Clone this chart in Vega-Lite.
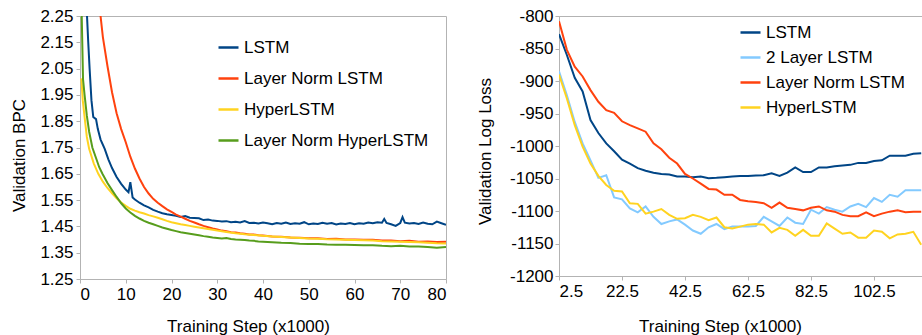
{
  "$schema": "https://vega.github.io/schema/vega-lite/v6.json",
  "autosize": {"type": "none"},
  "padding": {"left": 80, "top": 16, "right": 842, "bottom": 319},
  "background": "white",
  "bounds": "flush",
  "spacing": 113,
  "config": {
    "font": "Liberation Sans",
    "view": {"stroke": "#b3b3b3", "strokeWidth": 1},
    "axis": {
      "grid": false,
      "domainColor": "#b3b3b3",
      "tickColor": "#b3b3b3",
      "tickSize": 4,
      "labelColor": "#000000",
      "labelFontSize": 17,
      "labelFont": "Liberation Sans",
      "titleFont": "Liberation Sans",
      "titleFontSize": 17,
      "titleFontWeight": "normal",
      "titleColor": "#000000",
      "titleBaseline": "alphabetic"
    },
    "legend": {
      "labelFont": "Liberation Sans",
      "labelFontSize": 17,
      "labelColor": "#000000",
      "symbolType": "stroke",
      "symbolSize": 400,
      "symbolStrokeWidth": 2.5,
      "labelOffset": 4,
      "padding": 0,
      "labelLimit": 400
    }
  },
  "resolve": {"scale": {"color": "independent"}, "legend": {"color": "independent"}},
  "hconcat": [
    {
      "width": 366,
      "height": 263,
      "data": {"values": [
        {"model":"LSTM","step":1.4,"bpc":2.30},{"model":"LSTM","step":1.8,"bpc":2.15},{"model":"LSTM","step":2.1,"bpc":2.05},{"model":"LSTM","step":2.5,"bpc":1.93},{"model":"LSTM","step":2.9,"bpc":1.866},{"model":"LSTM","step":3.5,"bpc":1.858},{"model":"LSTM","step":3.9,"bpc":1.82},{"model":"LSTM","step":4.5,"bpc":1.78},{"model":"LSTM","step":5.4,"bpc":1.745},{"model":"LSTM","step":6.2,"bpc":1.705},{"model":"LSTM","step":7,"bpc":1.672},{"model":"LSTM","step":8,"bpc":1.638},{"model":"LSTM","step":9,"bpc":1.612},{"model":"LSTM","step":10,"bpc":1.59},{"model":"LSTM","step":10.6,"bpc":1.58},{"model":"LSTM","step":11,"bpc":1.618},{"model":"LSTM","step":11.5,"bpc":1.56},{"model":"LSTM","step":12,"bpc":1.552},{"model":"LSTM","step":13,"bpc":1.54},{"model":"LSTM","step":14,"bpc":1.53},{"model":"LSTM","step":15,"bpc":1.522},{"model":"LSTM","step":16,"bpc":1.513},{"model":"LSTM","step":17,"bpc":1.506},{"model":"LSTM","step":18,"bpc":1.5},{"model":"LSTM","step":19,"bpc":1.496},{"model":"LSTM","step":20,"bpc":1.493},{"model":"LSTM","step":21,"bpc":1.49},{"model":"LSTM","step":22,"bpc":1.486},{"model":"LSTM","step":23,"bpc":1.489},{"model":"LSTM","step":24,"bpc":1.483},{"model":"LSTM","step":25,"bpc":1.482},{"model":"LSTM","step":26,"bpc":1.481},{"model":"LSTM","step":27,"bpc":1.474},{"model":"LSTM","step":28,"bpc":1.476},{"model":"LSTM","step":29,"bpc":1.472},{"model":"LSTM","step":30,"bpc":1.471},{"model":"LSTM","step":31,"bpc":1.469},{"model":"LSTM","step":32,"bpc":1.47},{"model":"LSTM","step":33,"bpc":1.466},{"model":"LSTM","step":34,"bpc":1.468},{"model":"LSTM","step":35,"bpc":1.465},{"model":"LSTM","step":36,"bpc":1.47},{"model":"LSTM","step":37,"bpc":1.463},{"model":"LSTM","step":38,"bpc":1.464},{"model":"LSTM","step":39,"bpc":1.461},{"model":"LSTM","step":40,"bpc":1.465},{"model":"LSTM","step":41,"bpc":1.462},{"model":"LSTM","step":42,"bpc":1.458},{"model":"LSTM","step":43,"bpc":1.463},{"model":"LSTM","step":44,"bpc":1.46},{"model":"LSTM","step":45,"bpc":1.465},{"model":"LSTM","step":46,"bpc":1.459},{"model":"LSTM","step":47,"bpc":1.462},{"model":"LSTM","step":48,"bpc":1.46},{"model":"LSTM","step":49,"bpc":1.466},{"model":"LSTM","step":50,"bpc":1.458},{"model":"LSTM","step":51,"bpc":1.461},{"model":"LSTM","step":52,"bpc":1.459},{"model":"LSTM","step":53,"bpc":1.464},{"model":"LSTM","step":54,"bpc":1.46},{"model":"LSTM","step":55,"bpc":1.463},{"model":"LSTM","step":56,"bpc":1.457},{"model":"LSTM","step":57,"bpc":1.461},{"model":"LSTM","step":58,"bpc":1.459},{"model":"LSTM","step":59,"bpc":1.463},{"model":"LSTM","step":60,"bpc":1.458},{"model":"LSTM","step":61,"bpc":1.462},{"model":"LSTM","step":62,"bpc":1.46},{"model":"LSTM","step":63,"bpc":1.465},{"model":"LSTM","step":64,"bpc":1.462},{"model":"LSTM","step":65,"bpc":1.466},{"model":"LSTM","step":66,"bpc":1.464},{"model":"LSTM","step":66.5,"bpc":1.478},{"model":"LSTM","step":67,"bpc":1.463},{"model":"LSTM","step":68,"bpc":1.458},{"model":"LSTM","step":69,"bpc":1.452},{"model":"LSTM","step":70,"bpc":1.463},{"model":"LSTM","step":70.5,"bpc":1.485},{"model":"LSTM","step":71,"bpc":1.464},{"model":"LSTM","step":72,"bpc":1.461},{"model":"LSTM","step":73,"bpc":1.463},{"model":"LSTM","step":74,"bpc":1.459},{"model":"LSTM","step":75,"bpc":1.465},{"model":"LSTM","step":76,"bpc":1.46},{"model":"LSTM","step":77,"bpc":1.458},{"model":"LSTM","step":78,"bpc":1.468},{"model":"LSTM","step":79,"bpc":1.462},{"model":"LSTM","step":80,"bpc":1.456},

        {"model":"Layer Norm LSTM","step":4.3,"bpc":2.28},{"model":"Layer Norm LSTM","step":5,"bpc":2.17},{"model":"Layer Norm LSTM","step":6,"bpc":2.06},{"model":"Layer Norm LSTM","step":7,"bpc":1.96},{"model":"Layer Norm LSTM","step":8,"bpc":1.88},{"model":"Layer Norm LSTM","step":9,"bpc":1.82},{"model":"Layer Norm LSTM","step":10,"bpc":1.77},{"model":"Layer Norm LSTM","step":11,"bpc":1.715},{"model":"Layer Norm LSTM","step":12,"bpc":1.67},{"model":"Layer Norm LSTM","step":13,"bpc":1.632},{"model":"Layer Norm LSTM","step":14,"bpc":1.6},{"model":"Layer Norm LSTM","step":15,"bpc":1.575},{"model":"Layer Norm LSTM","step":16,"bpc":1.555},{"model":"Layer Norm LSTM","step":17,"bpc":1.54},{"model":"Layer Norm LSTM","step":18,"bpc":1.527},{"model":"Layer Norm LSTM","step":19,"bpc":1.515},{"model":"Layer Norm LSTM","step":20,"bpc":1.505},{"model":"Layer Norm LSTM","step":21,"bpc":1.495},{"model":"Layer Norm LSTM","step":22,"bpc":1.487},{"model":"Layer Norm LSTM","step":23,"bpc":1.479},{"model":"Layer Norm LSTM","step":24,"bpc":1.471},{"model":"Layer Norm LSTM","step":25,"bpc":1.465},{"model":"Layer Norm LSTM","step":26,"bpc":1.458},{"model":"Layer Norm LSTM","step":27,"bpc":1.452},{"model":"Layer Norm LSTM","step":28,"bpc":1.447},{"model":"Layer Norm LSTM","step":29,"bpc":1.442},{"model":"Layer Norm LSTM","step":30,"bpc":1.438},{"model":"Layer Norm LSTM","step":31,"bpc":1.434},{"model":"Layer Norm LSTM","step":32,"bpc":1.432},{"model":"Layer Norm LSTM","step":33,"bpc":1.428},{"model":"Layer Norm LSTM","step":34,"bpc":1.427},{"model":"Layer Norm LSTM","step":35,"bpc":1.424},{"model":"Layer Norm LSTM","step":36,"bpc":1.422},{"model":"Layer Norm LSTM","step":37,"bpc":1.419},{"model":"Layer Norm LSTM","step":38,"bpc":1.419},{"model":"Layer Norm LSTM","step":39,"bpc":1.416},{"model":"Layer Norm LSTM","step":40,"bpc":1.415},{"model":"Layer Norm LSTM","step":42,"bpc":1.412},{"model":"Layer Norm LSTM","step":44,"bpc":1.411},{"model":"Layer Norm LSTM","step":46,"bpc":1.408},{"model":"Layer Norm LSTM","step":48,"bpc":1.407},{"model":"Layer Norm LSTM","step":50,"bpc":1.405},{"model":"Layer Norm LSTM","step":52,"bpc":1.405},{"model":"Layer Norm LSTM","step":54,"bpc":1.402},{"model":"Layer Norm LSTM","step":56,"bpc":1.403},{"model":"Layer Norm LSTM","step":58,"bpc":1.4},{"model":"Layer Norm LSTM","step":60,"bpc":1.4},{"model":"Layer Norm LSTM","step":62,"bpc":1.399},{"model":"Layer Norm LSTM","step":64,"bpc":1.399},{"model":"Layer Norm LSTM","step":66,"bpc":1.396},{"model":"Layer Norm LSTM","step":68,"bpc":1.396},{"model":"Layer Norm LSTM","step":70,"bpc":1.394},{"model":"Layer Norm LSTM","step":72,"bpc":1.395},{"model":"Layer Norm LSTM","step":74,"bpc":1.392},{"model":"Layer Norm LSTM","step":76,"bpc":1.393},{"model":"Layer Norm LSTM","step":78,"bpc":1.391},{"model":"Layer Norm LSTM","step":80,"bpc":1.392},

        {"model":"HyperLSTM","step":0.3,"bpc":2.013},{"model":"HyperLSTM","step":0.6,"bpc":1.93},{"model":"HyperLSTM","step":1,"bpc":1.866},{"model":"HyperLSTM","step":1.5,"bpc":1.79},{"model":"HyperLSTM","step":2,"bpc":1.745},{"model":"HyperLSTM","step":3,"bpc":1.69},{"model":"HyperLSTM","step":4,"bpc":1.65},{"model":"HyperLSTM","step":5,"bpc":1.62},{"model":"HyperLSTM","step":6,"bpc":1.596},{"model":"HyperLSTM","step":7,"bpc":1.576},{"model":"HyperLSTM","step":8,"bpc":1.557},{"model":"HyperLSTM","step":9,"bpc":1.541},{"model":"HyperLSTM","step":10,"bpc":1.528},{"model":"HyperLSTM","step":11,"bpc":1.517},{"model":"HyperLSTM","step":12,"bpc":1.51},{"model":"HyperLSTM","step":13,"bpc":1.504},{"model":"HyperLSTM","step":14,"bpc":1.499},{"model":"HyperLSTM","step":15,"bpc":1.493},{"model":"HyperLSTM","step":16,"bpc":1.488},{"model":"HyperLSTM","step":17,"bpc":1.483},{"model":"HyperLSTM","step":18,"bpc":1.477},{"model":"HyperLSTM","step":19,"bpc":1.471},{"model":"HyperLSTM","step":20,"bpc":1.466},{"model":"HyperLSTM","step":21,"bpc":1.462},{"model":"HyperLSTM","step":22,"bpc":1.458},{"model":"HyperLSTM","step":23,"bpc":1.455},{"model":"HyperLSTM","step":24,"bpc":1.452},{"model":"HyperLSTM","step":25,"bpc":1.449},{"model":"HyperLSTM","step":26,"bpc":1.446},{"model":"HyperLSTM","step":27,"bpc":1.443},{"model":"HyperLSTM","step":28,"bpc":1.44},{"model":"HyperLSTM","step":29,"bpc":1.437},{"model":"HyperLSTM","step":30,"bpc":1.434},{"model":"HyperLSTM","step":32,"bpc":1.429},{"model":"HyperLSTM","step":34,"bpc":1.424},{"model":"HyperLSTM","step":36,"bpc":1.42},{"model":"HyperLSTM","step":38,"bpc":1.417},{"model":"HyperLSTM","step":40,"bpc":1.414},{"model":"HyperLSTM","step":42,"bpc":1.412},{"model":"HyperLSTM","step":44,"bpc":1.41},{"model":"HyperLSTM","step":46,"bpc":1.408},{"model":"HyperLSTM","step":48,"bpc":1.406},{"model":"HyperLSTM","step":50,"bpc":1.404},{"model":"HyperLSTM","step":52,"bpc":1.403},{"model":"HyperLSTM","step":54,"bpc":1.401},{"model":"HyperLSTM","step":56,"bpc":1.4},{"model":"HyperLSTM","step":58,"bpc":1.399},{"model":"HyperLSTM","step":60,"bpc":1.398},{"model":"HyperLSTM","step":62,"bpc":1.397},{"model":"HyperLSTM","step":64,"bpc":1.396},{"model":"HyperLSTM","step":66,"bpc":1.394},{"model":"HyperLSTM","step":68,"bpc":1.393},{"model":"HyperLSTM","step":70,"bpc":1.392},{"model":"HyperLSTM","step":72,"bpc":1.391},{"model":"HyperLSTM","step":74,"bpc":1.39},{"model":"HyperLSTM","step":76,"bpc":1.388},{"model":"HyperLSTM","step":78,"bpc":1.386},{"model":"HyperLSTM","step":80,"bpc":1.385},

        {"model":"Layer Norm HyperLSTM","step":0.2,"bpc":2.4},{"model":"Layer Norm HyperLSTM","step":0.66,"bpc":2.01},{"model":"Layer Norm HyperLSTM","step":1,"bpc":1.95},{"model":"Layer Norm HyperLSTM","step":1.5,"bpc":1.87},{"model":"Layer Norm HyperLSTM","step":2,"bpc":1.81},{"model":"Layer Norm HyperLSTM","step":2.7,"bpc":1.75},{"model":"Layer Norm HyperLSTM","step":3.5,"bpc":1.71},{"model":"Layer Norm HyperLSTM","step":4.2,"bpc":1.675},{"model":"Layer Norm HyperLSTM","step":4.9,"bpc":1.65},{"model":"Layer Norm HyperLSTM","step":6,"bpc":1.615},{"model":"Layer Norm HyperLSTM","step":7,"bpc":1.588},{"model":"Layer Norm HyperLSTM","step":8,"bpc":1.562},{"model":"Layer Norm HyperLSTM","step":9,"bpc":1.538},{"model":"Layer Norm HyperLSTM","step":10,"bpc":1.518},{"model":"Layer Norm HyperLSTM","step":11,"bpc":1.503},{"model":"Layer Norm HyperLSTM","step":12,"bpc":1.49},{"model":"Layer Norm HyperLSTM","step":13,"bpc":1.48},{"model":"Layer Norm HyperLSTM","step":14,"bpc":1.471},{"model":"Layer Norm HyperLSTM","step":15,"bpc":1.464},{"model":"Layer Norm HyperLSTM","step":16,"bpc":1.458},{"model":"Layer Norm HyperLSTM","step":17,"bpc":1.452},{"model":"Layer Norm HyperLSTM","step":18,"bpc":1.446},{"model":"Layer Norm HyperLSTM","step":19,"bpc":1.441},{"model":"Layer Norm HyperLSTM","step":20,"bpc":1.436},{"model":"Layer Norm HyperLSTM","step":21,"bpc":1.432},{"model":"Layer Norm HyperLSTM","step":22,"bpc":1.428},{"model":"Layer Norm HyperLSTM","step":23,"bpc":1.425},{"model":"Layer Norm HyperLSTM","step":24,"bpc":1.422},{"model":"Layer Norm HyperLSTM","step":25,"bpc":1.419},{"model":"Layer Norm HyperLSTM","step":26,"bpc":1.416},{"model":"Layer Norm HyperLSTM","step":27,"bpc":1.413},{"model":"Layer Norm HyperLSTM","step":28,"bpc":1.411},{"model":"Layer Norm HyperLSTM","step":29,"bpc":1.408},{"model":"Layer Norm HyperLSTM","step":30,"bpc":1.406},{"model":"Layer Norm HyperLSTM","step":31,"bpc":1.404},{"model":"Layer Norm HyperLSTM","step":32,"bpc":1.406},{"model":"Layer Norm HyperLSTM","step":33,"bpc":1.402},{"model":"Layer Norm HyperLSTM","step":34,"bpc":1.4},{"model":"Layer Norm HyperLSTM","step":35,"bpc":1.399},{"model":"Layer Norm HyperLSTM","step":36,"bpc":1.398},{"model":"Layer Norm HyperLSTM","step":37,"bpc":1.396},{"model":"Layer Norm HyperLSTM","step":38,"bpc":1.395},{"model":"Layer Norm HyperLSTM","step":39,"bpc":1.393},{"model":"Layer Norm HyperLSTM","step":40,"bpc":1.392},{"model":"Layer Norm HyperLSTM","step":42,"bpc":1.39},{"model":"Layer Norm HyperLSTM","step":44,"bpc":1.388},{"model":"Layer Norm HyperLSTM","step":46,"bpc":1.387},{"model":"Layer Norm HyperLSTM","step":48,"bpc":1.384},{"model":"Layer Norm HyperLSTM","step":50,"bpc":1.383},{"model":"Layer Norm HyperLSTM","step":52,"bpc":1.383},{"model":"Layer Norm HyperLSTM","step":54,"bpc":1.381},{"model":"Layer Norm HyperLSTM","step":56,"bpc":1.38},{"model":"Layer Norm HyperLSTM","step":58,"bpc":1.38},{"model":"Layer Norm HyperLSTM","step":60,"bpc":1.379},{"model":"Layer Norm HyperLSTM","step":62,"bpc":1.378},{"model":"Layer Norm HyperLSTM","step":64,"bpc":1.378},{"model":"Layer Norm HyperLSTM","step":66,"bpc":1.376},{"model":"Layer Norm HyperLSTM","step":68,"bpc":1.375},{"model":"Layer Norm HyperLSTM","step":70,"bpc":1.376},{"model":"Layer Norm HyperLSTM","step":72,"bpc":1.374},{"model":"Layer Norm HyperLSTM","step":74,"bpc":1.374},{"model":"Layer Norm HyperLSTM","step":76,"bpc":1.372},{"model":"Layer Norm HyperLSTM","step":78,"bpc":1.369},{"model":"Layer Norm HyperLSTM","step":80,"bpc":1.372}
      ]},
      "mark": {"type": "line", "strokeWidth": 2, "clip": true},
      "encoding": {
        "x": {"field": "step", "type": "quantitative",
          "scale": {"domain": [0, 80], "nice": false, "zero": false},
          "axis": {"values": [0, 10, 20, 30, 40, 50, 60, 70, 80], "labelPadding": 3,
            "title": "Training Step (x1000)", "titleX": 168, "titleY": 52}},
        "y": {"field": "bpc", "type": "quantitative",
          "scale": {"domain": [1.25, 2.25], "nice": false, "zero": false},
          "axis": {"values": [1.25, 1.35, 1.45, 1.55, 1.65, 1.75, 1.85, 1.95, 2.05, 2.15, 2.25], "format": ".2f", "labelPadding": 3,
            "title": "Validation BPC", "titleX": -56, "titleY": 139}},
        "color": {"field": "model", "type": "nominal",
          "scale": {"domain": ["LSTM", "Layer Norm LSTM", "HyperLSTM", "Layer Norm HyperLSTM"],
                    "range": ["#004586", "#ff420e", "#ffd320", "#579d1c"]},
          "legend": {"title": null, "orient": "none", "legendX": 137, "legendY": 20, "rowPadding": 11}}
      }
    },
    {
      "width": 366,
      "height": 260,
      "data": {"values": [
        {"model":"LSTM","step":2.5,"loss":-828},{"model":"LSTM","step":5,"loss":-860},{"model":"LSTM","step":7.5,"loss":-895},{"model":"LSTM","step":10,"loss":-916},{"model":"LSTM","step":12.5,"loss":-960},{"model":"LSTM","step":15,"loss":-980},{"model":"LSTM","step":17.5,"loss":-996},{"model":"LSTM","step":20,"loss":-1008},{"model":"LSTM","step":22.5,"loss":-1021},{"model":"LSTM","step":25,"loss":-1027},{"model":"LSTM","step":27.5,"loss":-1034},{"model":"LSTM","step":30,"loss":-1038},{"model":"LSTM","step":32.5,"loss":-1041},{"model":"LSTM","step":35,"loss":-1043},{"model":"LSTM","step":37.5,"loss":-1044},{"model":"LSTM","step":40,"loss":-1047},{"model":"LSTM","step":42.5,"loss":-1047},{"model":"LSTM","step":45,"loss":-1048},{"model":"LSTM","step":47.5,"loss":-1047},{"model":"LSTM","step":50,"loss":-1049.5},{"model":"LSTM","step":52.5,"loss":-1049},{"model":"LSTM","step":55,"loss":-1048},{"model":"LSTM","step":57.5,"loss":-1047},{"model":"LSTM","step":60,"loss":-1046},{"model":"LSTM","step":62.5,"loss":-1046},{"model":"LSTM","step":65,"loss":-1045.5},{"model":"LSTM","step":67.5,"loss":-1045},{"model":"LSTM","step":70,"loss":-1042},{"model":"LSTM","step":72.5,"loss":-1046},{"model":"LSTM","step":75,"loss":-1041},{"model":"LSTM","step":77.5,"loss":-1033},{"model":"LSTM","step":80,"loss":-1040},{"model":"LSTM","step":82.5,"loss":-1040},{"model":"LSTM","step":85,"loss":-1033},{"model":"LSTM","step":87.5,"loss":-1033},{"model":"LSTM","step":90,"loss":-1031},{"model":"LSTM","step":92.5,"loss":-1030},{"model":"LSTM","step":95,"loss":-1029},{"model":"LSTM","step":97.5,"loss":-1026},{"model":"LSTM","step":100,"loss":-1026},{"model":"LSTM","step":102.5,"loss":-1023},{"model":"LSTM","step":105,"loss":-1022},{"model":"LSTM","step":107.5,"loss":-1015},{"model":"LSTM","step":110,"loss":-1015},{"model":"LSTM","step":112.5,"loss":-1015},{"model":"LSTM","step":115,"loss":-1012},{"model":"LSTM","step":117.5,"loss":-1011},

        {"model":"2 Layer LSTM","step":2.5,"loss":-885},{"model":"2 Layer LSTM","step":5,"loss":-922},{"model":"2 Layer LSTM","step":7.5,"loss":-963},{"model":"2 Layer LSTM","step":10,"loss":-996},{"model":"2 Layer LSTM","step":12.5,"loss":-1022},{"model":"2 Layer LSTM","step":15,"loss":-1049},{"model":"2 Layer LSTM","step":17.5,"loss":-1045},{"model":"2 Layer LSTM","step":20,"loss":-1079},{"model":"2 Layer LSTM","step":22.5,"loss":-1082},{"model":"2 Layer LSTM","step":25,"loss":-1096},{"model":"2 Layer LSTM","step":27.5,"loss":-1102},{"model":"2 Layer LSTM","step":30,"loss":-1093},{"model":"2 Layer LSTM","step":32.5,"loss":-1109},{"model":"2 Layer LSTM","step":35,"loss":-1120},{"model":"2 Layer LSTM","step":37.5,"loss":-1116},{"model":"2 Layer LSTM","step":40,"loss":-1113},{"model":"2 Layer LSTM","step":42.5,"loss":-1121},{"model":"2 Layer LSTM","step":45,"loss":-1130},{"model":"2 Layer LSTM","step":47.5,"loss":-1135},{"model":"2 Layer LSTM","step":50,"loss":-1125},{"model":"2 Layer LSTM","step":52.5,"loss":-1120},{"model":"2 Layer LSTM","step":55,"loss":-1128},{"model":"2 Layer LSTM","step":57.5,"loss":-1124},{"model":"2 Layer LSTM","step":60,"loss":-1124},{"model":"2 Layer LSTM","step":62.5,"loss":-1124},{"model":"2 Layer LSTM","step":65,"loss":-1123},{"model":"2 Layer LSTM","step":67.5,"loss":-1109},{"model":"2 Layer LSTM","step":70,"loss":-1116},{"model":"2 Layer LSTM","step":72.5,"loss":-1123},{"model":"2 Layer LSTM","step":75,"loss":-1110},{"model":"2 Layer LSTM","step":77.5,"loss":-1118},{"model":"2 Layer LSTM","step":80,"loss":-1120},{"model":"2 Layer LSTM","step":82.5,"loss":-1098},{"model":"2 Layer LSTM","step":85,"loss":-1104},{"model":"2 Layer LSTM","step":87.5,"loss":-1094},{"model":"2 Layer LSTM","step":90,"loss":-1098},{"model":"2 Layer LSTM","step":92.5,"loss":-1101},{"model":"2 Layer LSTM","step":95,"loss":-1093},{"model":"2 Layer LSTM","step":97.5,"loss":-1089},{"model":"2 Layer LSTM","step":100,"loss":-1094},{"model":"2 Layer LSTM","step":102.5,"loss":-1080},{"model":"2 Layer LSTM","step":105,"loss":-1086},{"model":"2 Layer LSTM","step":107.5,"loss":-1075},{"model":"2 Layer LSTM","step":110,"loss":-1078},{"model":"2 Layer LSTM","step":112.5,"loss":-1068},{"model":"2 Layer LSTM","step":115,"loss":-1068},{"model":"2 Layer LSTM","step":117.5,"loss":-1068},

        {"model":"Layer Norm LSTM","step":2.5,"loss":-808},{"model":"Layer Norm LSTM","step":5,"loss":-852},{"model":"Layer Norm LSTM","step":7.5,"loss":-878},{"model":"Layer Norm LSTM","step":10,"loss":-893},{"model":"Layer Norm LSTM","step":12.5,"loss":-914},{"model":"Layer Norm LSTM","step":15,"loss":-932},{"model":"Layer Norm LSTM","step":17.5,"loss":-945},{"model":"Layer Norm LSTM","step":20,"loss":-949},{"model":"Layer Norm LSTM","step":22.5,"loss":-962},{"model":"Layer Norm LSTM","step":25,"loss":-968},{"model":"Layer Norm LSTM","step":27.5,"loss":-973},{"model":"Layer Norm LSTM","step":30,"loss":-978},{"model":"Layer Norm LSTM","step":32.5,"loss":-996},{"model":"Layer Norm LSTM","step":35,"loss":-1005},{"model":"Layer Norm LSTM","step":37.5,"loss":-1018},{"model":"Layer Norm LSTM","step":40,"loss":-1027},{"model":"Layer Norm LSTM","step":42.5,"loss":-1043},{"model":"Layer Norm LSTM","step":45,"loss":-1050},{"model":"Layer Norm LSTM","step":47.5,"loss":-1058},{"model":"Layer Norm LSTM","step":50,"loss":-1066},{"model":"Layer Norm LSTM","step":52.5,"loss":-1067},{"model":"Layer Norm LSTM","step":55,"loss":-1075},{"model":"Layer Norm LSTM","step":57.5,"loss":-1075},{"model":"Layer Norm LSTM","step":60,"loss":-1083},{"model":"Layer Norm LSTM","step":62.5,"loss":-1085},{"model":"Layer Norm LSTM","step":65,"loss":-1086},{"model":"Layer Norm LSTM","step":67.5,"loss":-1088},{"model":"Layer Norm LSTM","step":70,"loss":-1095},{"model":"Layer Norm LSTM","step":72.5,"loss":-1087},{"model":"Layer Norm LSTM","step":75,"loss":-1095},{"model":"Layer Norm LSTM","step":77.5,"loss":-1097},{"model":"Layer Norm LSTM","step":80,"loss":-1099},{"model":"Layer Norm LSTM","step":82.5,"loss":-1095},{"model":"Layer Norm LSTM","step":85,"loss":-1093},{"model":"Layer Norm LSTM","step":87.5,"loss":-1099},{"model":"Layer Norm LSTM","step":90,"loss":-1101},{"model":"Layer Norm LSTM","step":92.5,"loss":-1106},{"model":"Layer Norm LSTM","step":95,"loss":-1108},{"model":"Layer Norm LSTM","step":97.5,"loss":-1108},{"model":"Layer Norm LSTM","step":100,"loss":-1102},{"model":"Layer Norm LSTM","step":102.5,"loss":-1108},{"model":"Layer Norm LSTM","step":105,"loss":-1104},{"model":"Layer Norm LSTM","step":107.5,"loss":-1101},{"model":"Layer Norm LSTM","step":110,"loss":-1099},{"model":"Layer Norm LSTM","step":112.5,"loss":-1102},{"model":"Layer Norm LSTM","step":115,"loss":-1101},{"model":"Layer Norm LSTM","step":117.5,"loss":-1101},

        {"model":"HyperLSTM","step":2.5,"loss":-890},{"model":"HyperLSTM","step":5,"loss":-927},{"model":"HyperLSTM","step":7.5,"loss":-968},{"model":"HyperLSTM","step":10,"loss":-1001},{"model":"HyperLSTM","step":12.5,"loss":-1027},{"model":"HyperLSTM","step":15,"loss":-1046},{"model":"HyperLSTM","step":17.5,"loss":-1060},{"model":"HyperLSTM","step":20,"loss":-1069},{"model":"HyperLSTM","step":22.5,"loss":-1070},{"model":"HyperLSTM","step":25,"loss":-1088},{"model":"HyperLSTM","step":27.5,"loss":-1089},{"model":"HyperLSTM","step":30,"loss":-1104},{"model":"HyperLSTM","step":32.5,"loss":-1101},{"model":"HyperLSTM","step":35,"loss":-1097},{"model":"HyperLSTM","step":37.5,"loss":-1106},{"model":"HyperLSTM","step":40,"loss":-1112},{"model":"HyperLSTM","step":42.5,"loss":-1111},{"model":"HyperLSTM","step":45,"loss":-1106},{"model":"HyperLSTM","step":47.5,"loss":-1109},{"model":"HyperLSTM","step":50,"loss":-1114},{"model":"HyperLSTM","step":52.5,"loss":-1110},{"model":"HyperLSTM","step":55,"loss":-1125},{"model":"HyperLSTM","step":57.5,"loss":-1127},{"model":"HyperLSTM","step":60,"loss":-1124},{"model":"HyperLSTM","step":62.5,"loss":-1121},{"model":"HyperLSTM","step":65,"loss":-1120},{"model":"HyperLSTM","step":67.5,"loss":-1121},{"model":"HyperLSTM","step":70,"loss":-1133},{"model":"HyperLSTM","step":72.5,"loss":-1126},{"model":"HyperLSTM","step":75,"loss":-1129},{"model":"HyperLSTM","step":77.5,"loss":-1138},{"model":"HyperLSTM","step":80,"loss":-1129},{"model":"HyperLSTM","step":82.5,"loss":-1138},{"model":"HyperLSTM","step":85,"loss":-1138},{"model":"HyperLSTM","step":87.5,"loss":-1119},{"model":"HyperLSTM","step":90,"loss":-1127},{"model":"HyperLSTM","step":92.5,"loss":-1135},{"model":"HyperLSTM","step":95,"loss":-1133},{"model":"HyperLSTM","step":97.5,"loss":-1141},{"model":"HyperLSTM","step":100,"loss":-1141},{"model":"HyperLSTM","step":102.5,"loss":-1130},{"model":"HyperLSTM","step":105,"loss":-1132},{"model":"HyperLSTM","step":107.5,"loss":-1142},{"model":"HyperLSTM","step":110,"loss":-1136},{"model":"HyperLSTM","step":112.5,"loss":-1135},{"model":"HyperLSTM","step":115,"loss":-1132},{"model":"HyperLSTM","step":117.5,"loss":-1152}
      ]},
      "mark": {"type": "line", "strokeWidth": 2, "clip": true},
      "encoding": {
        "x": {"field": "step", "type": "quantitative",
          "scale": {"domain": [2.5, 118.7], "nice": false, "zero": false},
          "axis": {"values": [2.5, 22.5, 42.5, 62.5, 82.5, 102.5], "format": ".1f", "labelPadding": 3,
            "title": "Training Step (x1000)", "titleX": 161, "titleY": 55}},
        "y": {"field": "loss", "type": "quantitative",
          "scale": {"domain": [-1200, -800], "nice": false, "zero": false},
          "axis": {"values": [-1200, -1150, -1100, -1050, -1000, -950, -900, -850, -800], "labelExpr": "'' + datum.value", "labelPadding": 2,
            "title": "Validation Log Loss", "titleX": -69, "titleY": 135}},
        "color": {"field": "model", "type": "nominal",
          "scale": {"domain": ["LSTM", "2 Layer LSTM", "Layer Norm LSTM", "HyperLSTM"],
                    "range": ["#004586", "#83caff", "#ff420e", "#ffd320"]},
          "legend": {"title": null, "orient": "none", "legendX": 180, "legendY": 5, "rowPadding": 5}}
      }
    }
  ]
}
